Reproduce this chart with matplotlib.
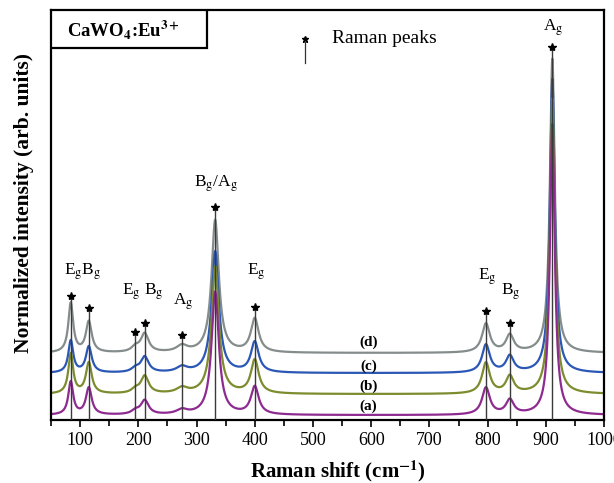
import numpy as np
import matplotlib
matplotlib.use("Agg")
import matplotlib.pyplot as plt
from matplotlib.patches import Rectangle

plt.rcParams['font.family'] = ['Liberation Serif', 'DejaVu Serif']
plt.rcParams['mathtext.fontset'] = 'stix'

# Raman peak positions (cm-1)
peak_pos = [84, 115, 195, 211, 275, 332, 400, 797, 838, 911]
# half widths (cm-1)
peak_hw = [5, 6, 8, 8, 11, 7.5, 8, 8, 8, 5]

# peak heights per sample (normalized, strongest Ag = 1)
h_a = [0.110, 0.090, 0.012, 0.047, 0.015, 0.410, 0.093, 0.090, 0.048, 0.970]
h_b = [0.133, 0.103, 0.013, 0.058, 0.018, 0.425, 0.112, 0.103, 0.057, 0.985]
h_c = [0.107, 0.087, 0.013, 0.052, 0.018, 0.405, 0.102, 0.093, 0.054, 0.980]
h_d = [0.165, 0.103, 0.016, 0.062, 0.021, 0.442, 0.112, 0.096, 0.057, 0.980]

offsets = [0.0, 0.070, 0.140, 0.207]
labels = ['(a)', '(b)', '(c)', '(d)']
colors = ['#8e2b90', '#7d8c2e', '#2b57b5', '#858c8c']

# star marker heights above the peaks
star_y = [0.397, 0.357, 0.277, 0.307, 0.267, 0.693, 0.360, 0.347, 0.307, 1.227]

# mode labels
mode_text = [r'E$_\mathrm{g}$B$_\mathrm{g}$', r'E$_\mathrm{g}$ B$_\mathrm{g}$', r'A$_\mathrm{g}$',
             r'B$_\mathrm{g}$/A$_\mathrm{g}$', r'E$_\mathrm{g}$', r'E$_\mathrm{g}$',
             r'B$_\mathrm{g}$', r'A$_\mathrm{g}$']
mode_x = [104, 208, 277, 333, 403, 799, 840, 912]
mode_y = [0.477, 0.410, 0.377, 0.773, 0.477, 0.463, 0.413, 1.290]

x = np.linspace(50, 1000, 3000)


def spectrum(heights):
    y = np.zeros_like(x)
    for p, w, h in zip(peak_pos, peak_hw, heights):
        y += h / (1 + ((x - p) / w) ** 2)
    return y


fig = plt.figure(figsize=(6.14, 4.83), dpi=100)
ax = fig.add_axes([0.083, 0.130, 0.901, 0.849])

series = [h_a, h_b, h_c, h_d]
for k in [3, 2, 1, 0]:
    ax.plot(x, spectrum(series[k]) + offsets[k], color=colors[k], lw=1.6, zorder=2)

for p, s in zip(peak_pos, star_y):
    ax.plot([p, p], [-0.02, s - 0.01], color='#3a3a3a', lw=1.0, zorder=3)
ax.plot(peak_pos, star_y, ls='none', marker='*', color='black', ms=6, zorder=4)

for t, tx, ty in zip(mode_text, mode_x, mode_y):
    ax.text(tx, ty, t, fontsize=12.5, ha='center', va='center')

label_y = [0.030, 0.097, 0.163, 0.243]
for lab, ly in zip(labels, label_y):
    ax.text(595, ly, lab, fontsize=11, fontweight='bold', ha='center', va='center')

# legend-like marker
ax.plot([486, 486], [1.173, 1.243], color='#333333', lw=0.9)
ax.plot([486], [1.253], marker='*', color='black', ms=5)
ax.text(533, 1.257, 'Raman peaks', fontsize=14, ha='left', va='center')

# sample box
ax.add_patch(Rectangle((0, 0.907), 0.282, 0.093, transform=ax.transAxes,
                       facecolor='white', edgecolor='black', lw=1.6, zorder=5))
ax.text(0.029, 0.954, r'CaWO$_\mathbf{4}$:Eu$^\mathbf{3+}$', transform=ax.transAxes,
        fontsize=13.5, fontweight='bold', ha='left', va='center', zorder=6)

ax.set_xlim(50, 1000)
ax.set_ylim(-0.0167, 1.35)
ax.set_xticks(np.arange(100, 1001, 100))
ax.set_xticks(np.arange(50, 1001, 50), minor=True)
ax.set_yticks([])
ax.tick_params(axis='x', which='major', direction='out', length=5, width=1.2, labelsize=13)
ax.tick_params(axis='x', which='minor', direction='out', length=4, width=1.2)
for s in ax.spines.values():
    s.set_linewidth(1.6)

ax.set_xlabel(r'Raman shift (cm$^{\mathbf{-1}}$)', fontsize=15, fontweight='bold', va='center')
ax.xaxis.set_label_coords(0.519, -0.124)
ax.set_ylabel('Normalized intensity (arb. units)', fontsize=15.5, fontweight='bold', va='center')
ax.yaxis.set_label_coords(-0.049, 0.530)

fig.savefig('out.png', dpi=100)
